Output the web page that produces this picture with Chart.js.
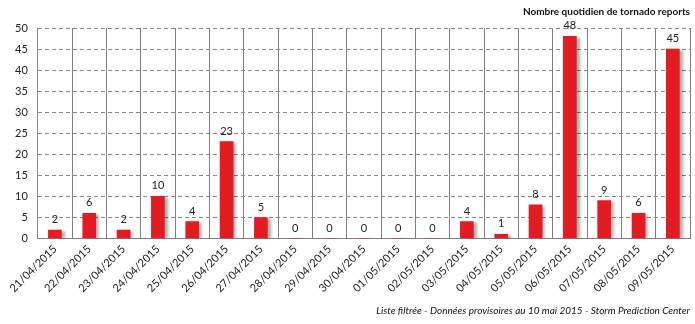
<!DOCTYPE html>
<html>
<head>
<meta charset="utf-8">
<script src="https://cdn.jsdelivr.net/npm/chart.js@4/dist/chart.umd.min.js"></script>
<style>
  html, body { margin: 0; padding: 0; background: #fff; }
  #wrap { width: 695px; height: 324px; }
</style>
</head>
<body>
<div id="wrap"><canvas id="myChart"></canvas></div>
<script>
// data
var days = [
  "21/04/2015", "22/04/2015", "23/04/2015", "24/04/2015", "25/04/2015",
  "26/04/2015", "27/04/2015", "28/04/2015", "29/04/2015", "30/04/2015",
  "01/05/2015", "02/05/2015", "03/05/2015", "04/05/2015", "05/05/2015",
  "06/05/2015", "07/05/2015", "08/05/2015", "09/05/2015"
];
var reports = [2, 6, 2, 10, 4, 23, 5, 0, 0, 0, 0, 0, 4, 1, 8, 48, 9, 6, 45];
var yTicks = [0, 5, 10, 15, 20, 25, 30, 35, 40, 45, 50];

var titleText = "Nombre quotidien de tornado reports";
var sourceText = "Liste filtrée - Données provisoires au 10 mai 2015 - Storm Prediction Center";

var fontName = "Lato, 'Open Sans', sans-serif";

// shadow on the bars
var barShadow = {
  id: "barShadow",
  beforeDatasetsDraw: function (chart) {
    var ctx = chart.ctx;
    ctx.save();
    ctx.shadowColor = "rgba(0,0,0,0.35)";
    ctx.shadowOffsetX = 3;
    ctx.shadowOffsetY = 1;
    ctx.shadowBlur = 3;
  },
  afterDatasetsDraw: function (chart) {
    chart.ctx.restore();
  }
};

// value above each bar
var valueLabels = {
  id: "valueLabels",
  afterDatasetsDraw: function (chart) {
    var ctx = chart.ctx;
    var meta = chart.getDatasetMeta(0);
    ctx.save();
    ctx.font = "11px " + fontName;
    ctx.fillStyle = "#222";
    ctx.textAlign = "center";
    ctx.textBaseline = "bottom";
    meta.data.forEach(function (bar, i) {
      ctx.fillText(String(reports[i]), bar.x, bar.y - 5);
    });
    ctx.restore();
  }
};

function renderChart() {
  const data = {
    labels: days,
    datasets: [
      {
        label: "Tornado reports",
        data: reports,
        backgroundColor: "#e31b23",
        borderWidth: 0,
        barThickness: 13,
      },
    ],
  };

  const config = {
    type: "bar",
    data: data,
    plugins: [barShadow, valueLabels],
    options: {
      responsive: true,
      maintainAspectRatio: false,
      animation: false,
      layout: { padding: { left: 5, right: 5, top: 2, bottom: 7 } },
      plugins: {
        legend: { display: false },
        tooltip: { enabled: false },
        title: {
          display: true,
          text: titleText,
          align: "end",
          color: "#111",
          font: { family: fontName, size: 10, weight: "bold" },
          padding: { top: 4, bottom: 10 },
        },
        subtitle: {
          display: true,
          text: sourceText,
          position: "bottom",
          align: "end",
          color: "#111",
          font: { family: fontName, size: 10, style: "italic" },
          padding: { top: 6, bottom: 0 },
        },
      },
      scales: {
        x: {
          offset: true,
          grid: {
            offset: true,
            color: "#808080",
            lineWidth: 1,
            drawTicks: false,
          },
          border: { color: "#808080" },
          ticks: {
            color: "#222",
            font: { family: fontName, size: 11 },
            maxRotation: 45,
            minRotation: 45,
            autoSkip: false,
            padding: 4,
          },
        },
        y: {
          min: 0,
          max: 50,
          afterBuildTicks: function (axis) {
            axis.ticks = yTicks.map(function (v) { return { value: v }; });
          },
          grid: {
            color: "#888",
            lineWidth: 1,
            drawTicks: false,
          },
          border: { display: true, color: "#888", dash: [4, 3] },
          ticks: {
            color: "#222",
            font: { family: fontName, size: 11 },
            padding: 10,
          },
        },
      },
    },
  };

  const myChart = new Chart(document.getElementById("myChart"), config);
}
renderChart();
</script>
</body>
</html>
